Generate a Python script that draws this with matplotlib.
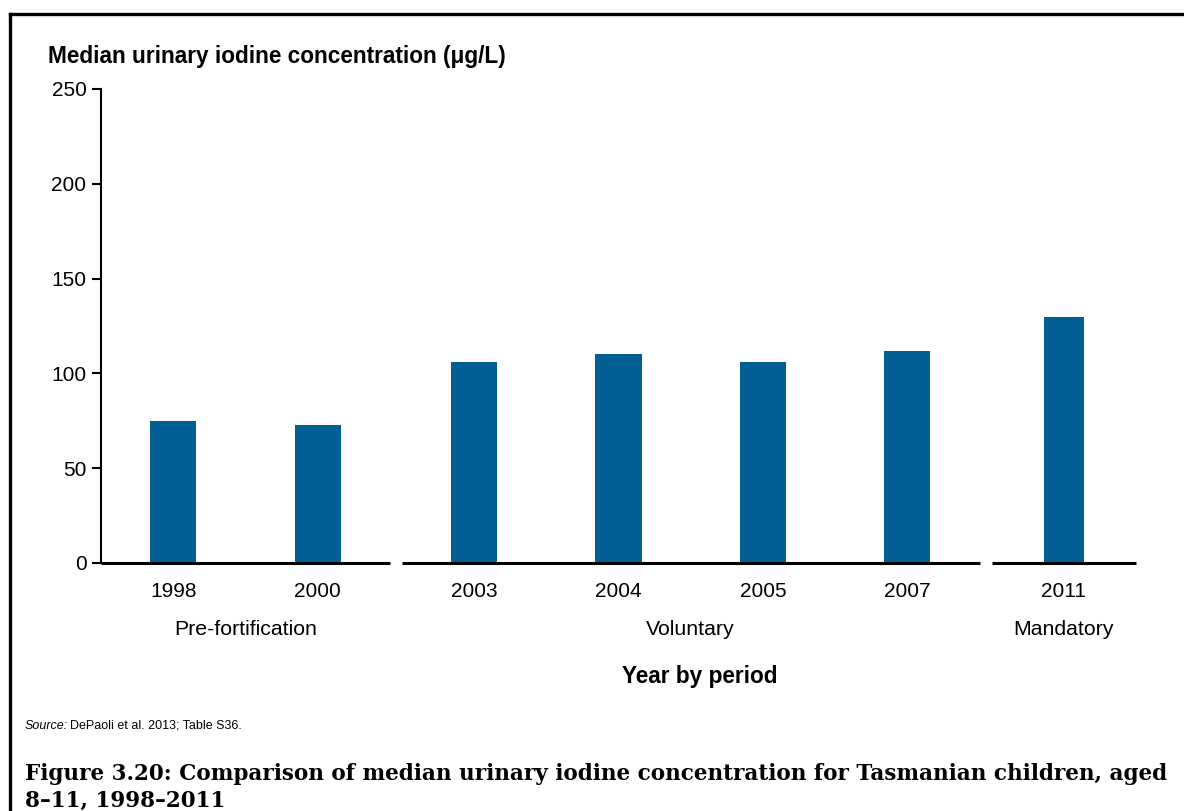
import matplotlib.pyplot as plt
from matplotlib.lines import Line2D

plt.rcParams['font.family'] = ['Liberation Sans', 'DejaVu Sans']

periods = ['Pre-fortification', 'Voluntary', 'Mandatory']
years = ['1998', '2000', '2003', '2004', '2005', '2007', '2011']
year_period = [0, 0, 1, 1, 1, 1, 2]
median_uic = [75, 73, 106, 110, 106, 112, 130]

bar_color = '#025f95'
gap = 0.083

# lay the years out in slots, leaving a small break between periods
xpos = []
seg_start = {}
seg_end = {}
x = 0.0
for i, p in enumerate(year_period):
    if i > 0 and p != year_period[i - 1]:
        x += gap
    seg_start.setdefault(p, x)
    xpos.append(x + 0.5)
    x += 1
    seg_end[p] = x

fig = plt.figure(figsize=(11.84, 8.11), dpi=100)
ax = fig.add_axes([101 / 1184, 1 - 563 / 811, 1035 / 1184, 474 / 811])

widths = [0.32 if p < 2 else 0.28 for p in year_period]
ax.bar(xpos, median_uic, width=widths, color=bar_color, zorder=2)

ax.set_xlim(0, x)
ax.set_ylim(0, 250)
ax.set_yticks(range(0, 251, 50))
ax.tick_params(axis='y', direction='out', length=6.5, width=1.5, labelsize=15, pad=4)

ax.set_xticks(xpos)
ax.set_xticklabels(years)
ax.tick_params(axis='x', length=0, labelsize=15, pad=14)

for s in ['top', 'right', 'bottom']:
    ax.spines[s].set_visible(False)
ax.spines['left'].set_linewidth(1.5)

# broken baseline, one piece per period
for p in range(len(periods)):
    ax.plot([seg_start[p], seg_end[p]], [0, 0], color='black', lw=2.2,
            solid_capstyle='butt', clip_on=False, zorder=3)
    ax.annotate(periods[p], xy=((seg_start[p] + seg_end[p]) / 2, 0),
                xycoords=('data', 'axes fraction'), xytext=(0, -48),
                textcoords='offset points', ha='center', va='center', fontsize=15.3)

fig.text(48 / 1184, 1 - 57 / 811, 'Median urinary iodine concentration (μg/L)',
         fontsize=16.3, fontweight='bold', ha='left', va='center')
fig.text(700 / 1184, 1 - 676 / 811, 'Year by period', fontsize=16.3,
         fontweight='bold', ha='center', va='center')

fig.text(25 / 1184, 1 - 726 / 811, 'Source:', fontsize=9, style='italic',
         ha='left', va='center')
fig.text(70 / 1184, 1 - 726 / 811, 'DePaoli et al. 2013; Table S36.', fontsize=9,
         ha='left', va='center')

cap_font = ['DejaVu Serif']
fig.text(25 / 1184, 1 - 774 / 811,
         'Figure 3.20: Comparison of median urinary iodine concentration for Tasmanian children, aged',
         fontsize=15.5, fontweight='bold', family=cap_font, ha='left', va='center')
fig.text(25 / 1184, 1 - 801 / 811, '8–11, 1998–2011',
         fontsize=15.5, fontweight='bold', family=cap_font, ha='left', va='center')

# frame around the figure panel
fig.add_artist(Line2D([10 / 1184, 1], [1 - 14 / 811] * 2, color='black', lw=2.4,
                      transform=fig.transFigure))
fig.add_artist(Line2D([10 / 1184] * 2, [0, 1 - 14 / 811], color='black', lw=2.4,
                      transform=fig.transFigure))

fig.savefig('out.png', dpi=100)
